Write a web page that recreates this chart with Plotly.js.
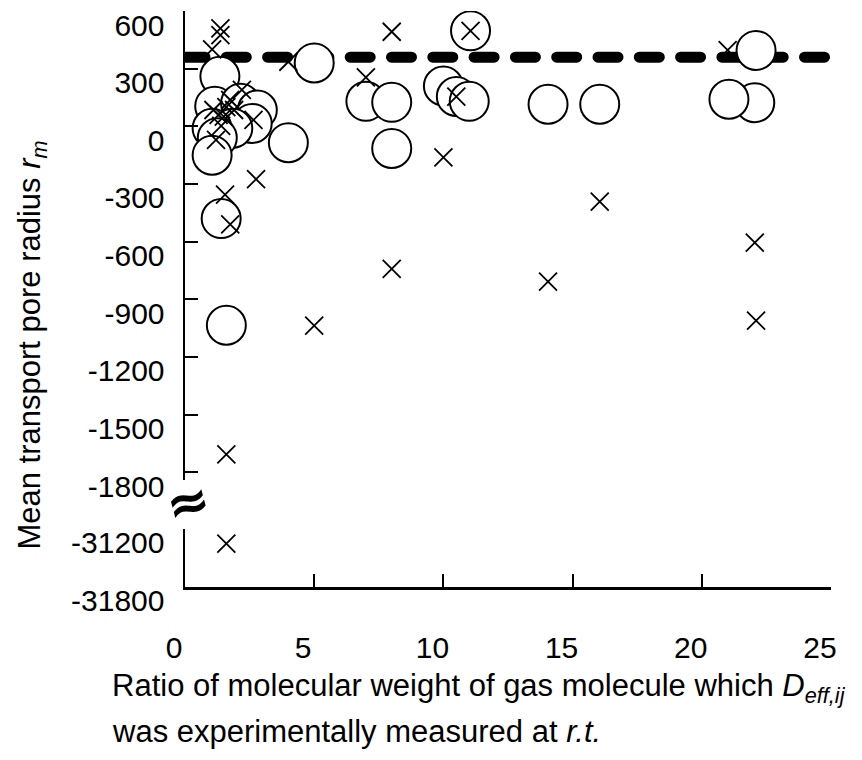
<!DOCTYPE html>
<html>
<head>
<meta charset="utf-8">
<script src="https://cdn.plot.ly/plotly-3.0.1.min.js"></script>
<style>
  html, body { margin: 0; padding: 0; background: #fff; }
  #chart { width: 862px; height: 760px; }
  .js-line { stroke-linecap: round; }
</style>
</head>
<body>
<div id="chart"></div>
<script>
// ---- data ----
const circleX = [1.35, 1.15, 2.15, 2.8, 2.6, 1.85, 1.05, 1.25, 1.05, 4.0, 5.0, 1.4, 1.6,
                 7.0, 8.0, 8.0, 10.0, 10.5, 11.0, 11.05, 14.05, 16.05, 22.1, 22.05, 21.05];
const circleY = [260, 105, 120, 85, 15, -10, -10, -60, -150, -85, 330, -480, -1035,
                 130, 125, -115, 210, 155, 130, 497, 115, 115, 395, 123, 141];

const crossX = [1.37, 1.37, 1.05, 8.0, 4.0, 7.0, 10.5, 11.05, 10.0, 2.75, 1.55, 1.75,
                8.0, 5.0, 14.05, 16.05, 22.05, 22.1, 1.6, 1.6,
                2.2, 1.1, 1.5, 1.9, 2.65, 1.2, 1.75, 1.4, 1.6, 1.3];
const crossY = [510, 475, 400, 492, 336, 255, 155, 497, -161, -275, -355, -510,
                -742, -1037, -808, -392, -605, -1011, -1707, -31352,
                190, 85, 50, 85, 33, -70, 137, 2, 100, 60];

const crossBackX = [21.0];
const crossBackY = [397];

const dashedLevel = 360;
const dashedX = [0, 25];

const xTicks = [0, 5, 10, 15, 20, 25];
const yTicksUpper = [600, 300, 0, -300, -600, -900, -1200, -1500, -1800];
const yTicksLower = [-31200, -31800];
const breakValue = -10000;   // values below this belong to the lower (broken) axis part

// ---- split points between the upper and lower y-axis parts ----
function split(xs, ys) {
  const up = {x: [], y: []}, lo = {x: [], y: []};
  xs.forEach((v, i) => {
    const t = ys[i] < breakValue ? lo : up;
    t.x.push(v); t.y.push(ys[i]);
  });
  return {up, lo};
}
const cr = split(crossX, crossY);
const ci = split(circleX, circleY);

const crossMarker = {symbol: 'x-thin-open', size: 18, color: '#000', line: {color: '#000', width: 1.8}};
const circleMarker = {symbol: 'circle', size: 39, color: '#fff', line: {color: '#000', width: 2}};

const traces = [
  {x: dashedX, y: dashedX.map(() => dashedLevel), mode: 'lines', xaxis: 'x', yaxis: 'y',
   line: {color: '#000', width: 11, dash: '20px,21.3px'}, hoverinfo: 'skip'},
  {x: crossBackX, y: crossBackY, mode: 'markers', xaxis: 'x', yaxis: 'y', marker: crossMarker},
  {x: ci.up.x, y: ci.up.y, mode: 'markers', xaxis: 'x', yaxis: 'y', marker: circleMarker},
  {x: cr.up.x, y: cr.up.y, mode: 'markers', xaxis: 'x', yaxis: 'y', marker: crossMarker},
  {x: cr.lo.x, y: cr.lo.y, mode: 'markers', xaxis: 'x', yaxis: 'y2', marker: crossMarker},
  {x: ci.lo.x, y: ci.lo.y, mode: 'markers', xaxis: 'x', yaxis: 'y2', marker: circleMarker}
];

const FONT = 'Liberation Sans, Arial, Helvetica, sans-serif';
const tickFont = {family: FONT, size: 30, color: '#000'};

const commonY = {
  showline: true, linecolor: '#000', linewidth: 2.5,
  ticks: 'inside', ticklen: 13, tickwidth: 2, tickcolor: '#000',
  showgrid: false, zeroline: false, tickfont: tickFont,
  tickmode: 'array', ticklabelshift: 14, ticklabelstandoff: 12,
  automargin: false, fixedrange: true
};

const layout = {
  width: 862, height: 760,
  margin: {l: 185, r: 31, t: 11, b: 173},
  paper_bgcolor: '#fff', plot_bgcolor: 'rgba(0,0,0,0)',
  showlegend: false,
  font: {family: FONT, color: '#000'},
  xaxis: {
    range: [0, 25], anchor: 'y2',
    showline: true, linecolor: '#000', linewidth: 2.5,
    ticks: 'inside', ticklen: 13, tickwidth: 2, tickcolor: '#000',
    tickmode: 'array', tickvals: xTicks, ticktext: xTicks.map(String),
    showgrid: false, zeroline: false, tickfont: tickFont,
    ticklabelshift: -11, ticklabelstandoff: 32, automargin: false, fixedrange: true
  },
  yaxis: Object.assign({}, commonY, {
    domain: [0.1858, 1], range: [-1840, 600], anchor: 'x',
    tickvals: yTicksUpper, ticktext: yTicksUpper.map(String)
  }),
  yaxis2: Object.assign({}, commonY, {
    domain: [0, 0.1007], range: [-31800, -31200], anchor: 'x',
    tickvals: yTicksLower, ticktext: yTicksLower.map(String)
  }),
  annotations: [
    {text: 'Ratio of molecular weight of gas molecule which <i>D</i><sub><i>eff,ij</i></sub>',
     xref: 'paper', yref: 'paper', x: -0.116, y: -0.1753, xanchor: 'left', yanchor: 'middle',
     showarrow: false, font: {family: FONT, size: 31, color: '#000'}},
    {text: 'was experimentally measured at <i>r.t.</i>',
     xref: 'paper', yref: 'paper', x: -0.116, y: -0.2512, xanchor: 'left', yanchor: 'middle',
     showarrow: false, font: {family: FONT, size: 31, color: '#000'}},
    {text: 'Mean transport pore radius <i>r</i><sub><i>m</i></sub>',
     xref: 'paper', yref: 'paper', x: -0.236, y: 0.42, xanchor: 'center', yanchor: 'middle',
     textangle: -90, showarrow: false, font: {family: FONT, size: 31, color: '#000'}},
    {text: '<b>≈</b>', xref: 'paper', yref: 'paper', x: 0.004, y: 0.148,
     xanchor: 'center', yanchor: 'middle', textangle: -15, showarrow: false,
     font: {family: 'DejaVu Sans', size: 52, color: '#000'}}
  ]
};

Plotly.newPlot('chart', traces, layout, {displayModeBar: false, staticPlot: true});
</script>
</body>
</html>
